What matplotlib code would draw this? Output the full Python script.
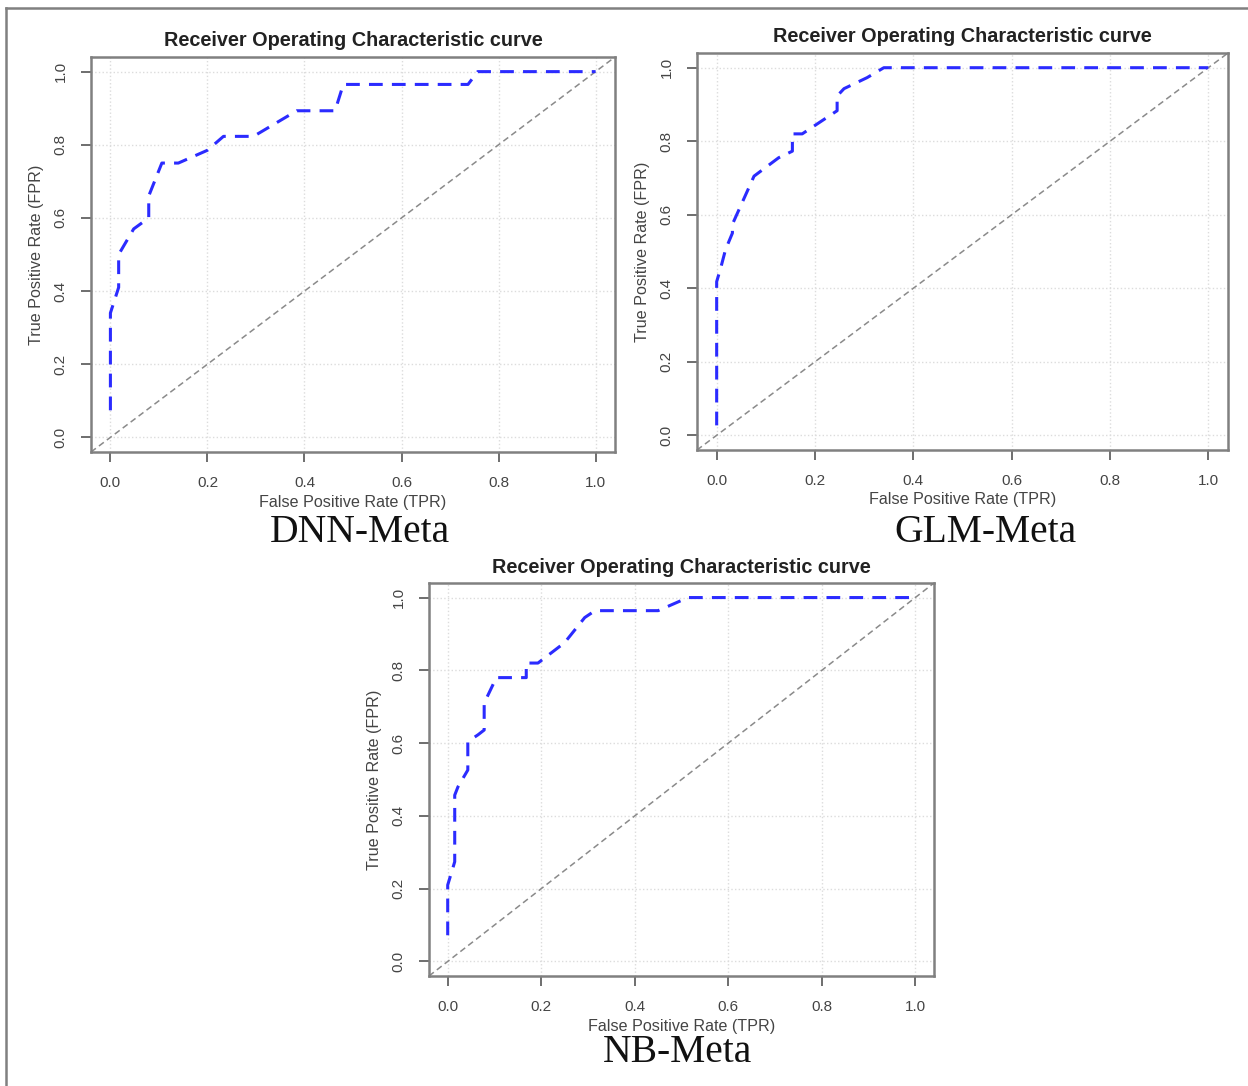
import matplotlib.pyplot as plt
from matplotlib.lines import Line2D

W, H = 1248, 1086

# ROC points (FPR, TPR)
dnn_fpr = [0.0, 0.0, 0.017, 0.017, 0.048, 0.079, 0.079, 0.106, 0.14, 0.20, 0.233, 0.295,
           0.384, 0.463, 0.48, 0.737, 0.757, 1.0]
dnn_tpr = [0.074, 0.34, 0.41, 0.50, 0.57, 0.60, 0.66, 0.75, 0.75, 0.785, 0.823, 0.823,
           0.893, 0.893, 0.965, 0.965, 1.0, 1.0]

glm_fpr = [0.0, 0.0, 0.008, 0.018, 0.032, 0.032, 0.076, 0.126, 0.154, 0.154, 0.174,
           0.245, 0.245, 0.259, 0.306, 0.34, 1.0]
glm_tpr = [0.027, 0.418, 0.454, 0.505, 0.55, 0.574, 0.705, 0.755, 0.773, 0.82, 0.82,
           0.883, 0.923, 0.943, 0.973, 1.0, 1.0]

nb_fpr = [0.0, 0.0, 0.015, 0.015, 0.022, 0.043, 0.043, 0.065, 0.078, 0.078, 0.104, 0.168,
          0.168, 0.193, 0.25, 0.293, 0.315, 0.45, 0.514, 1.0]
nb_tpr = [0.072, 0.21, 0.274, 0.457, 0.48, 0.526, 0.604, 0.623, 0.636, 0.71, 0.78, 0.78,
          0.82, 0.82, 0.876, 0.945, 0.964, 0.964, 1.0, 1.0]

panels = [
    # name, fpr, tpr, box (left, right, top, bottom) in px, title y, name y, name x
    ('DNN-Meta', dnn_fpr, dnn_tpr, (91, 615, 57, 452), 40, 532, 360),
    ('GLM-Meta', glm_fpr, glm_tpr, (697, 1228, 53, 450), 36, 532, 985),
    ('NB-Meta', nb_fpr, nb_tpr, (429, 934, 583, 976), 567, 1052, 678),
]

ticks = [0.0, 0.2, 0.4, 0.6, 0.8, 1.0]
tick_lbl = ['0.0', '0.2', '0.4', '0.6', '0.8', '1.0']

plt.rcParams['font.family'] = ['Liberation Sans', 'DejaVu Sans']

fig = plt.figure(figsize=(W / 100, H / 100), dpi=100)


def fx(x):
    return x / W


def fy(y):
    return 1 - y / H


for name, fpr, tpr, (l, r, t, b), title_y, name_y, name_x in panels:
    ax = fig.add_axes([fx(l), fy(b), fx(r - l), (b - t) / H])
    ax.set_xlim(-0.04, 1.04)
    ax.set_ylim(-0.04, 1.04)
    ax.grid(True, color='#dcdcdc', linestyle=':', linewidth=1.0)
    ax.set_axisbelow(True)
    ax.axline((0, 0), (1, 1), color='#8a8a8a', linestyle=(0, (4, 2.5)), linewidth=1.1)
    ax.plot(fpr, tpr, color='#2b2bff', linestyle=(0, (4.5, 3)), linewidth=2.2)
    ax.set_xticks(ticks)
    ax.set_xticklabels(tick_lbl)
    ax.set_yticks(ticks)
    ax.set_yticklabels(tick_lbl, rotation=90, va='center')
    ax.tick_params(direction='out', length=7, width=1.2, color='#555555',
                   labelcolor='#444444', labelsize=11, pad=10)
    for s in ax.spines.values():
        s.set_color('#808080')
        s.set_linewidth(1.8)

    cx = (l + r) / 2
    cy = (t + b) / 2
    fig.text(fx(cx), fy(title_y), 'Receiver Operating Characteristic curve',
             ha='center', va='center', fontsize=14.3, fontweight='bold', color='#222222')
    fig.text(fx(cx), fy(b + 50), 'False Positive Rate (TPR)',
             ha='center', va='center', fontsize=11.6, color='#444444')
    fig.text(fx(l - 54), fy(cy), 'True Positive Rate (FPR)', rotation=90,
             ha='center', va='center', fontsize=11.6, color='#444444')
    fig.text(fx(name_x), fy(name_y), name, ha='center', va='center',
             fontsize=28.5, family='Liberation Serif', color='#111111')

# outer frame of the figure
fig.add_artist(Line2D([fx(6), fx(6)], [fy(8), 0], color='#808080', linewidth=1.8))
fig.add_artist(Line2D([fx(6), 1], [fy(8), fy(8)], color='#808080', linewidth=1.8))

fig.savefig('out.png', dpi=100)
